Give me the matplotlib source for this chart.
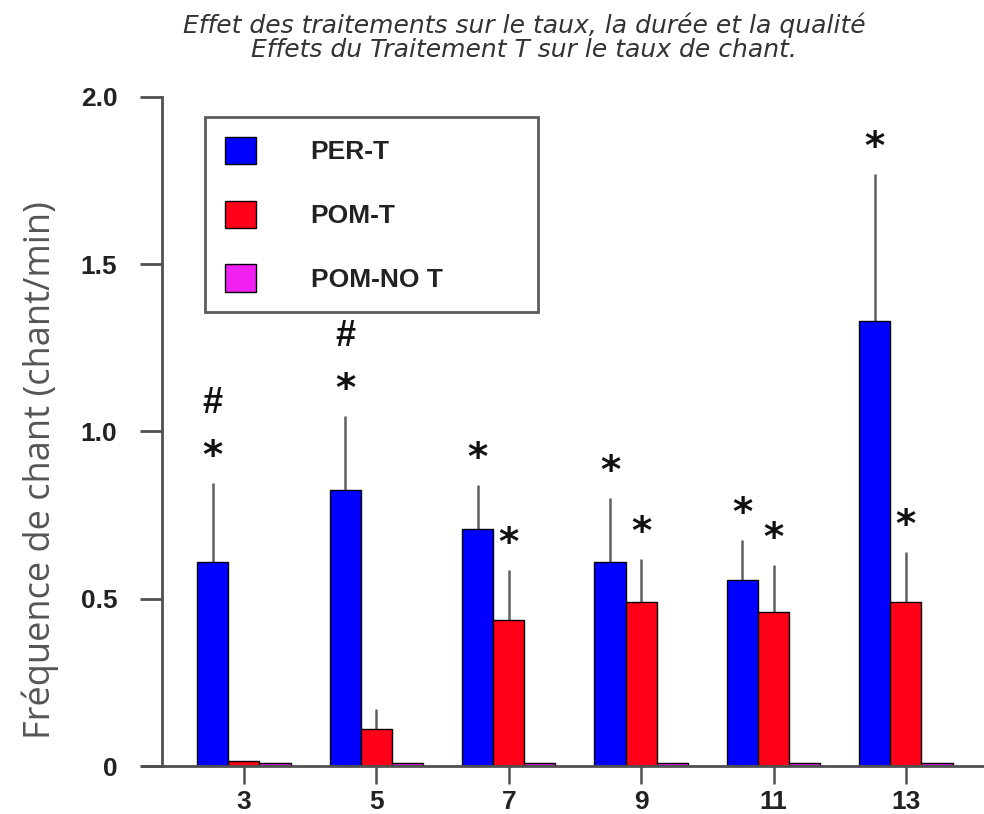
import matplotlib
matplotlib.use("Agg")
import matplotlib.pyplot as plt
import numpy as np

categories = ["3", "5", "7", "9", "11", "13"]
series_names = ["PER-T", "POM-T", "POM-NO T"]
per_t = [0.61, 0.825, 0.71, 0.61, 0.555, 1.33]
per_t_err = [0.235, 0.22, 0.13, 0.19, 0.12, 0.44]
pom_t = [0.015, 0.11, 0.435, 0.49, 0.46, 0.49]
pom_t_err = [0.0, 0.06, 0.15, 0.13, 0.14, 0.15]
pom_not = [0.01, 0.01, 0.01, 0.01, 0.01, 0.01]
per_t_star = [True, True, True, True, True, True]
per_t_hash = [True, True, False, False, False, False]
pom_t_star = [False, False, True, True, True, True]
yticks = [0, 0.5, 1.0, 1.5, 2.0]
ytick_labels = ["0", "0.5", "1.0", "1.5", "2.0"]
title_lines = ["Effet des traitements sur le taux, la durée et la qualité",
               "Effets du Traitement T sur le taux de chant."]
ylabel = "Fréquence de chant (chant/min)"

colors = ["#0000ff", "#ff0019", "#f020f0"]
bold_fam = ["Liberation Sans", "DejaVu Sans"]

fig = plt.figure(figsize=(9.84, 8.14), dpi=100)
ax = fig.add_axes([142/984, 1-766/814, 1-142/984, (766-97)/814])

x = np.arange(len(categories))
w = 0.235
offs = [-w, 0, w]
vals = [per_t, pom_t, pom_not]
errs = [per_t_err, pom_t_err, [0]*len(categories)]
handles = []
for i in range(3):
    b = ax.bar(x + offs[i], vals[i], w, color=colors[i], edgecolor="black",
               linewidth=1.0, label=series_names[i], zorder=2)
    handles.append(b)
    if i < 2:
        e = np.array(errs[i])
        ax.errorbar(x + offs[i], vals[i], yerr=[np.zeros_like(e), e], fmt="none",
                    ecolor="#606060", elinewidth=1.8, capsize=0, zorder=1)

px = 72 / 100.0  # points per pixel
for i, (stars, hashes, v, e) in enumerate([(per_t_star, per_t_hash, per_t, per_t_err),
                                           (pom_t_star, [False]*6, pom_t, pom_t_err)]):
    for j in range(len(categories)):
        top = v[j] + e[j]
        xc = x[j] + offs[i]
        if stars[j]:
            ax.annotate("*", xy=(xc, top), xytext=(0, 30 * px), textcoords="offset points",
                        ha="center", va="center_baseline", fontsize=28,
                        family=["DejaVu Sans"], fontweight="bold", color="#111111")
        if hashes[j]:
            ax.annotate("#", xy=(xc, top), xytext=(0, 80 * px), textcoords="offset points",
                        ha="center", va="center", fontsize=26,
                        family=bold_fam, fontweight="bold", color="#111111")

ax.set_xlim(-0.77, 5.59)
ax.set_ylim(0, 2.0)
ax.set_xticks(x)
ax.set_xticklabels(categories)
ax.set_yticks(yticks)
ax.set_yticklabels(ytick_labels)

for s in ["top", "right"]:
    ax.spines[s].set_visible(False)
ax.spines["left"].set_position(("data", -0.62))
for s in ["left", "bottom"]:
    ax.spines[s].set_color("#505050")
    ax.spines[s].set_linewidth(2.0)
ax.tick_params(axis="y", length=16, width=2.0, color="#505050", pad=16)
ax.tick_params(axis="x", length=13, width=1.8, color="#505050", pad=4)
for lab in ax.get_yticklabels() + ax.get_xticklabels():
    lab.set_fontfamily(bold_fam)
    lab.set_fontweight("bold")
    lab.set_fontsize(19)
    lab.set_color("#222222")

leg = ax.legend(handles=handles, loc="upper left",
                bbox_to_anchor=(63/842, (766-117)/669, 333/842, 0.0), mode="expand",
                prop=dict(family=bold_fam, weight="bold", size=19),
                handlelength=1.2, handleheight=1.2, handletextpad=2.05,
                labelspacing=1.38, borderpad=0.75, fancybox=False, frameon=True,
                borderaxespad=0)
leg.get_frame().set_edgecolor("#333333")
leg.get_frame().set_linewidth(2.0)
for t in leg.get_texts():
    t.set_color("#222222")

tfont = ["Liberation Sans Narrow", "DejaVu Sans Condensed", "DejaVu Sans"]
fig.text(524/984, 1-25/814, title_lines[0], ha="center", va="center",
         family=tfont, style="italic", fontsize=18, color="#333333")
fig.text(524/984, 1-50/814, title_lines[1], ha="center", va="center",
         family=tfont, style="italic", fontsize=18, color="#333333")
fig.text(40/984, 1-470/814, ylabel, rotation=90, ha="center", va="center",
         family=["Open Sans", "DejaVu Sans"], fontsize=26, color="#555555")

fig.savefig("out.png", dpi=100)
